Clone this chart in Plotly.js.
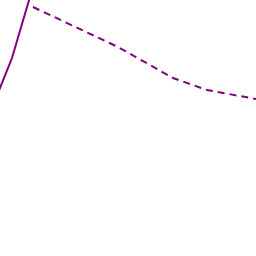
<!DOCTYPE html>
<html>
<head>
<meta charset="utf-8">
<script src="https://cdn.plot.ly/plotly-3.0.1.min.js"></script>
<style>html,body{margin:0;padding:0;background:#fff;}#chart{width:256px;height:256px;}</style>
</head>
<body>
<div id="chart"></div>
<script>
// Values (arbitrary units, higher = further up)
const solidX = [-4, 12, 32];
const solidY = [158, 198, 266];
const dashX = [33, 118, 173, 207, 256, 262];
const dashY = [249, 209, 178, 166, 157, 156];

const traces = [
  {x: solidX, y: solidY, mode: 'lines', line: {color: '#800080', width: 2}, showlegend: false, hoverinfo: 'skip'},
  {x: dashX, y: dashY, mode: 'lines', line: {color: '#800080', width: 2, dash: '7px,5px'}, showlegend: false, hoverinfo: 'skip'}
];
const layout = {
  width: 256, height: 256,
  margin: {l: 0, r: 0, t: 0, b: 0},
  paper_bgcolor: '#fff', plot_bgcolor: '#fff',
  xaxis: {range: [0, 256], visible: false, fixedrange: true},
  yaxis: {range: [0, 256], visible: false, fixedrange: true},
  showlegend: false
};
Plotly.newPlot('chart', traces, layout, {staticPlot: true, displayModeBar: false});
</script>
</body>
</html>
